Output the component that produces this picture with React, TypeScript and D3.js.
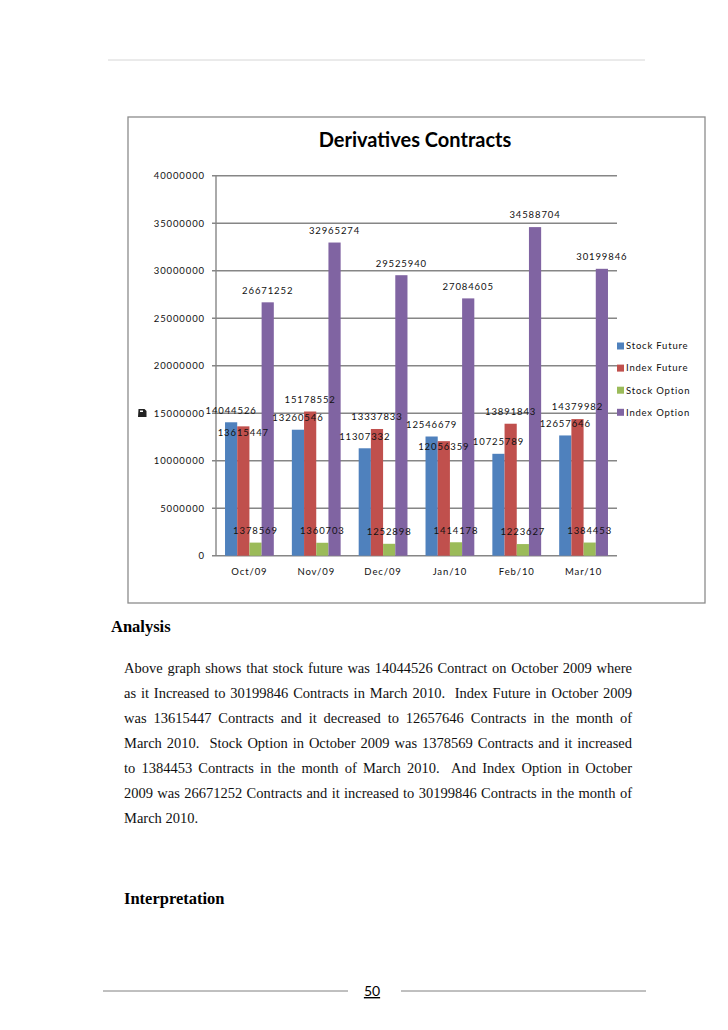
import React, { useEffect, useRef } from "react";
import * as d3 from "d3";

// chart data read from the page
const months = ["Oct/09", "Nov/09", "Dec/09", "Jan/10", "Feb/10", "Mar/10"];
const seriesNames = ["Stock Future", "Index Future", "Stock Option", "Index Option"];
const stockFuture = [14044526, 13260546, 11307332, 12546679, 10725789, 12657646];
const indexFuture = [13615447, 15178552, 13337833, 12056359, 13891843, 14379982];
const stockOption = [1378569, 1360703, 1252898, 1414178, 1223627, 1384453];
const indexOption = [26671252, 32965274, 29525940, 27084605, 34588704, 30199846];
const yTicks = [0, 5000000, 10000000, 15000000, 20000000, 25000000, 30000000, 35000000, 40000000];
const colors = ["#4F81BD", "#C0504D", "#9BBB59", "#8064A2"];

const chartTitle = "Derivatives Contracts";

const paragraph = [
  "Above graph shows that stock future was 14044526 Contract on October 2009 where",
  "as it Increased to 30199846 Contracts in March 2010.  Index Future in October 2009",
  "was 13615447 Contracts and it decreased to 12657646 Contracts in the month of",
  "March 2010.  Stock Option in October 2009 was 1378569 Contracts and it increased",
  "to 1384453 Contracts in the month of March 2010.  And Index Option in October",
  "2009 was 26671252 Contracts and it increased to 30199846 Contracts in the month of",
  "March 2010.",
];

function App() {
  const svgRef = useRef<SVGSVGElement>(null);

  useEffect(() => {
    document.body.style.margin = "0";
    const width = 728;
    const height = 1030;

    const svg = d3.select(svgRef.current)
      .attr("width", width)
      .attr("height", height)
      .style("display", "block")
      .style("background", "#fff");
    svg.selectAll("*").remove();

    const chartFont = "Lato, 'Open Sans', sans-serif";
    const serif = "'Liberation Serif', 'Times New Roman', serif";

    // page header line
    svg.append("line")
      .attr("x1", 108).attr("x2", 645).attr("y1", 60).attr("y2", 60)
      .attr("stroke", "#d6d6d6").attr("stroke-width", 1);

    // chart frame
    svg.append("rect")
      .attr("x", 128).attr("y", 117).attr("width", 577).attr("height", 486)
      .attr("fill", "#fff").attr("stroke", "#8c8c8c").attr("stroke-width", 1.3);

    svg.append("text")
      .attr("x", 415).attr("y", 147)
      .attr("text-anchor", "middle")
      .style("font-family", chartFont)
      .style("font-weight", 700)
      .style("font-size", "20px")
      .attr("fill", "#000")
      .text(chartTitle);

    const left = 216, right = 617, top = 175.7, bottom = 555.7;

    const y = d3.scaleLinear().domain([0, 40000000]).range([bottom, top]);
    const x0 = d3.scaleBand<string>().domain(months).range([left, right])
      .paddingInner(0.27).paddingOuter(0.135);
    const x1 = d3.scaleBand<string>().domain(seriesNames).range([0, x0.bandwidth()]);

    const values = [stockFuture, indexFuture, stockOption, indexOption];

    // grid lines
    const grid = svg.append("g");
    grid.selectAll("line")
      .data(yTicks)
      .join("line")
      .attr("x1", left - 4).attr("x2", right)
      .attr("y1", d => y(d)).attr("y2", d => y(d))
      .attr("stroke", "#868686").attr("stroke-width", 1.4);

    grid.append("line")
      .attr("x1", left).attr("x2", left).attr("y1", top).attr("y2", bottom)
      .attr("stroke", "#868686").attr("stroke-width", 1.4);

    // y labels
    svg.append("g").selectAll("text")
      .data(yTicks)
      .join("text")
      .attr("x", 205).attr("y", d => y(d))
      .attr("dy", "0.35em")
      .attr("text-anchor", "end")
      .style("font-family", chartFont)
      .style("font-size", "9.5px")
      .style("letter-spacing", "0.9px")
      .attr("fill", "#111")
      .text(d => String(d));

    // little stray glyph beside 15000000
    svg.append("path")
      .attr("d", `M138.5,409 h6 l2,2 v6 h-8.5 z M140,410.5 h3 v1.5 h-3 z`)
      .attr("fill", "#222").attr("fill-rule", "evenodd");

    // x labels
    svg.append("g").selectAll("text")
      .data(months)
      .join("text")
      .attr("x", d => (x0(d) as number) + x0.bandwidth() / 2)
      .attr("y", 575)
      .attr("text-anchor", "middle")
      .style("font-family", chartFont)
      .style("font-size", "9.5px")
      .style("letter-spacing", "0.9px")
      .attr("fill", "#111")
      .text(d => d);

    // bars
    values.forEach((vals, si) => {
      svg.append("g").selectAll("rect")
        .data(vals)
        .join("rect")
        .attr("x", (d, i) => (x0(months[i]) as number) + (x1(seriesNames[si]) as number))
        .attr("y", d => y(d))
        .attr("width", x1.bandwidth())
        .attr("height", d => bottom - y(d))
        .attr("fill", colors[si]);
    });

    // data labels, index future label pushed below the stock future one when they clash
    const labelY = (v: number) => y(v) - 12;
    values.forEach((vals, si) => {
      svg.append("g").selectAll("text")
        .data(vals)
        .join("text")
        .attr("x", (d, i) => (x0(months[i]) as number) + (x1(seriesNames[si]) as number) + x1.bandwidth() / 2)
        .attr("y", (d, i) => {
          let ly = labelY(d);
          if (si === 1) {
            const other = labelY(stockFuture[i]);
            if (Math.abs(ly - other) < 14) ly = other + 22;
          }
          return ly;
        })
        .attr("dy", "0.35em")
        .attr("text-anchor", "middle")
        .style("font-family", chartFont)
        .style("font-size", "9.5px")
        .style("letter-spacing", "0.9px")
        .attr("fill", "#111")
        .text(d => String(d));
    });

    // legend
    const legend = svg.append("g").selectAll("g")
      .data(seriesNames)
      .join("g")
      .attr("transform", (d, i) => `translate(617, ${346 + i * 22.1})`);
    legend.append("rect")
      .attr("x", 0).attr("y", -3.5).attr("width", 7).attr("height", 7)
      .attr("fill", (d, i) => colors[i]);
    legend.append("text")
      .attr("x", 9).attr("dy", "0.35em")
      .style("font-family", chartFont)
      .style("font-size", "9.5px")
      .style("letter-spacing", "0.8px")
      .attr("fill", "#111")
      .text(d => d);

    // body text below the chart
    svg.append("text")
      .attr("x", 111).attr("y", 632)
      .style("font-family", serif)
      .style("font-weight", 700)
      .style("font-size", "16.5px")
      .attr("fill", "#000")
      .text("Analysis");

    const lineW = 508;
    paragraph.forEach((line, i) => {
      const t = svg.append("text")
        .attr("x", 124).attr("y", 672.7 + i * 25.1)
        .style("font-family", serif)
        .style("font-size", "14.5px")
        .style("white-space", "pre")
        .attr("fill", "#111")
        .text(line);
      if (i < paragraph.length - 1) {
        const node = t.node() as SVGTextElement;
        const natural = node.getComputedTextLength();
        const spaces = (line.match(/ /g) || []).length;
        if (spaces > 0) t.style("word-spacing", `${(lineW - natural) / spaces}px`);
      }
    });

    svg.append("text")
      .attr("x", 124).attr("y", 904)
      .style("font-family", serif)
      .style("font-weight", 700)
      .style("font-size", "16.5px")
      .attr("fill", "#000")
      .text("Interpretation");

    // footer
    svg.append("line")
      .attr("x1", 103).attr("x2", 348).attr("y1", 991).attr("y2", 991)
      .attr("stroke", "#808080").attr("stroke-width", 1);
    svg.append("line")
      .attr("x1", 401).attr("x2", 646).attr("y1", 991).attr("y2", 991)
      .attr("stroke", "#808080").attr("stroke-width", 1);
    svg.append("text")
      .attr("x", 372).attr("y", 996)
      .attr("text-anchor", "middle")
      .style("font-family", chartFont)
      .style("font-size", "14px")
      .style("text-decoration", "underline")
      .attr("fill", "#000")
      .text("50");
  }, []);

  return (
    <div>
      <svg ref={svgRef}></svg>
    </div>
  );
}

export default App;
